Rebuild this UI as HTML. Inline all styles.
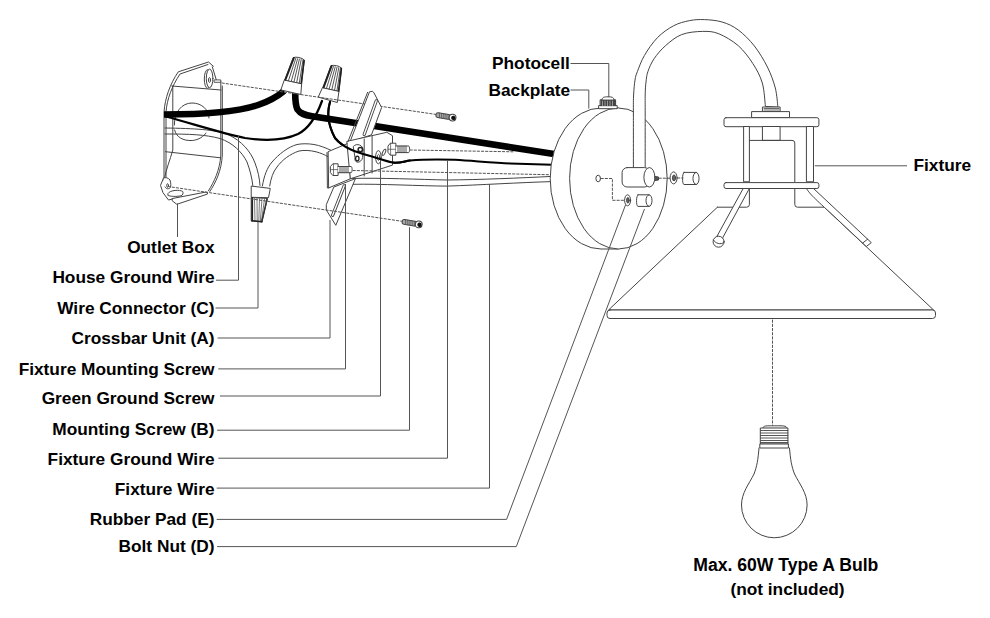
<!DOCTYPE html>
<html><head><meta charset="utf-8"><style>
html,body{margin:0;padding:0;background:#fff;}
svg{display:block;}
text{font-family:"Liberation Sans",sans-serif;font-weight:bold;font-size:17.3px;fill:#000;}
.l{fill:none;stroke:#555;stroke-width:1;}
.k{fill:none;stroke:#222;stroke-width:1;}
.d{fill:none;stroke:#555;stroke-width:1;stroke-dasharray:3 3;}
</style></head><body>
<svg width="990" height="618" viewBox="0 0 990 618">
<!-- LABELS -->
<g text-anchor="end">
<text x="214.5" y="253.4">Outlet Box</text>
<text x="214.5" y="283.4">House Ground Wire</text>
<text x="214.5" y="313.6">Wire Connector (C)</text>
<text x="214.5" y="343.6">Crossbar Unit (A)</text>
<text x="214.5" y="374.6">Fixture Mounting Screw</text>
<text x="214.5" y="403.6">Green Ground Screw</text>
<text x="214.5" y="434.6">Mounting Screw (B)</text>
<text x="214.5" y="464.6">Fixture Ground Wire</text>
<text x="214.5" y="494.6">Fixture Wire</text>
<text x="214.5" y="524.6">Rubber Pad (E)</text>
<text x="214.5" y="552.1">Bolt Nut (D)</text>
</g>
<text x="492" y="69">Photocell</text>
<text x="488.5" y="96">Backplate</text>
<text x="913.5" y="170.9">Fixture</text>
<text x="785.8" y="570.8" text-anchor="middle" style="font-size:17.6px">Max. 60W Type A Bulb</text>
<text x="787.5" y="594.5" text-anchor="middle">(not included)</text>

<!-- DRAWING -->
<g id="drawing" fill="none" stroke="#444" stroke-width="1" stroke-linejoin="round" stroke-linecap="round">
<!-- outlet box -->
<path d="M164,180 V112 C165,98 170,84 178.3,71.8 L208.5,62 L213.4,66.3"/>
<path d="M166,178 V112 C167,99 172,86 180,74 L208,64.5"/>
<path d="M212.3,66.8 L216.5,80.5 M220.8,81 V155 C220,170 214,182 208.4,190.9"/>
<path d="M222.3,86 V155 C221.5,171 215.5,183 209.8,191.5"/>
<path d="M172.8,86 V150 C170,160 166,170 164.5,178"/>
<path d="M171.8,86 L221,90"/>
<path d="M165.5,151.7 L219.7,157.7"/>
<path d="M174.4,125 C174,112 182,103 192,103 C202,103 209,110 209,118 M174.6,130 C176,137 183,141 192.2,140.5 C199,140 204,136 206,133"/>
<ellipse cx="207.6" cy="79" rx="3.3" ry="9.3" fill="#fff"/>
<ellipse cx="209.6" cy="78.4" rx="3.3" ry="9.3" fill="#fff"/>
<ellipse cx="209.5" cy="80" rx="1" ry="2.5"/>
<rect x="214.5" y="79.9" width="6.2" height="2.4" fill="#fff" stroke-width="0.9"/>
<path d="M163.5,178 L160.5,185.4 L163,192.7 L168.5,200 L172.5,199"/>
<path d="M163.7,178.1 C165,177 168,177.5 170,180 C171,183 171,186 170.3,187.5 C169,189.5 166,189 165,187" fill="#fff"/>
<ellipse cx="167.6" cy="185.5" rx="0.9" ry="1.8"/>
<path d="M168.2,193.2 C170,190 180,189.5 182.7,191.5 C183.5,193 183,195 181,195.8 C176,196.8 170,196.5 168.2,195.5 Z" fill="#fff"/>
<path d="M172.5,198.5 L206,192 L207.4,192.7 L207.4,194.1 L176.8,204.3 L172.5,201 Z" fill="#fff"/>
<!-- white wires (double lines) -->
<path d="M165,128 C195,128.5 215,129.5 228,134.5 C242,141 251,152 255,163 C258,171 259.5,178 260,185.5"/>
<path d="M165,134 C190,134 205,134.5 220,138.5 C233,143 242,152 247,162 C250,170 252,178 252.8,185.5"/>
<path d="M262.4,186 C264,176 267,168 272,162 C279,154 288,147 297,144.5 C302,143.5 308,143.5 314,144.5 C320,145.5 326,148 330.7,150.2"/>
<path d="M269.7,186 C271,178 273,172 277,167 C282,160 290,154 299,151 C304,150 310,150.3 316,151.8 C321,153 325,155 327.6,156.5"/>
<path d="M350.6,178.5 C380,177.6 420,179.5 447,180 C480,179.7 520,178 552,176.4"/>
<path d="M353,184.3 C380,183.7 420,186 447,186.1 C480,185 520,182.5 552,181.6"/>
<!-- thin black wires -->
<path d="M166,116.5 C200,126 225,134 245,138 C265,141 285,140 298,134 C310,128 318,112 322,101" stroke="#000" stroke-width="2.2"/>
<path d="M330,102 C327,112 328,125 335,138 C345,150 360,153 376,157.7 C385,160.5 390,162.6 395,162.7 C401,162.8 405,161.2 410,160.5 C425,159.2 440,159.3 455,159.8 C475,161 495,163 510,163.4 C530,164 545,164.6 552,164.8" stroke="#000" stroke-width="2"/>
<!-- thick black wires -->
<path d="M164,114.5 C200,114.5 235,113 258,105 C270,101 278,96 284,91" stroke="#000" stroke-width="6.5" stroke-linecap="butt"/>
<path d="M295.2,93 C295.2,100 295.2,105 297.5,109.5 C300.5,114 305,115 312,116.2 L554,154" stroke="#000" stroke-width="6.6" stroke-linecap="butt"/>
<!-- wire nut C (bottom) -->
<path d="M251.6,186.1 L270.3,188.4 L268.5,197.7 L251.6,197.3 Z" fill="#fff"/>
<path d="M251.6,197.5 L267.5,198.5 L261.8,221.8 L251.6,220.6 Z" fill="#fff"/>
<path d="M252.2,198 V220.5" stroke="#222" stroke-width="1.8"/>
<path d="M254.5,198.5 L255,221 M257,198.5 L257.2,221.3 M259.5,198.8 L258.8,221.5 M262,199 L260.3,221.6 M264.5,199.2 L261.5,221" stroke="#555" stroke-width="0.8"/>
<path d="M267,199 L261.8,221.8" stroke="#333" stroke-width="1.5"/>
<path d="M251.6,220.8 L261.8,221.8" stroke="#222" stroke-width="1.5"/>
<!-- wire nut 1 -->
<path d="M284.8,79.8 L301.7,83.4 L300.8,94.5 L281.2,90 Z" fill="#fff"/>
<path d="M284.8,79.8 L293.2,57.6 C296,56.5 302,57.5 304.4,60.2 L301.7,83.4 Z" fill="#fff"/>
<path d="M285.5,79.5 L293.8,58" stroke="#222" stroke-width="2"/>
<path d="M288.5,80.5 L295.8,58.3 M291.3,81.2 L297.6,58.7 M294,81.8 L299.4,59.1 M296.7,82.4 L301.2,59.5 M299.3,83 L303,59.9" stroke="#444" stroke-width="0.9"/>
<path d="M301.2,83 L304,60.5" stroke="#222" stroke-width="1.6"/>
<!-- wire nut 2 -->
<path d="M323,87.4 L339,91 L337.3,102.5 L318.6,97.2 Z" fill="#fff"/>
<path d="M323,87.4 L331,65.6 C334,64.8 339.5,65.8 341.7,68.2 L339,91 Z" fill="#fff"/>
<path d="M323.7,87.2 L331.5,66" stroke="#222" stroke-width="2"/>
<path d="M326.5,88.2 L333.4,66.4 M329.2,88.8 L335.2,66.8 M331.9,89.4 L337,67.2 M334.6,90 L338.8,67.6 M337,90.5 L340.4,68" stroke="#444" stroke-width="0.9"/>
<path d="M338.6,90.6 L341.3,68.6" stroke="#222" stroke-width="1.6"/>
<path d="M222,83 L436.5,114.5" stroke="#555" stroke-dasharray="2.3 1.9"/>
<!-- crossbar unit -->
<g fill="#fff">
<path d="M333.7,187.4 L326.3,204.7 L326.3,210 L335.8,225.3 L355.3,179 Z"/>
<path d="M350,141.8 L369.5,91.8 L372.6,91.3 L374,92.9 L381.6,107.6 L371.6,134.5 Z"/>
<path d="M328.5,151.5 L350,142.5 L350.6,178.7 L329,187.8 Z"/>
<path d="M347.2,141.3 L386.8,132.3 L392.5,135.7 L392.5,165.1 L350.6,178.7 Z"/>
</g>
<path d="M327,152.5 L327.4,188 L329,187.8"/>
<path d="M348,141.5 L367.6,92.4"/>
<path d="M364.2,139 V176 M372.1,136.5 V173"/>
<path d="M376.3,100.8 L364.2,134.5" stroke-width="3.2"/>
<path d="M376.3,100.8 L364.2,134.5" stroke="#fff" stroke-width="1.4"/>
<path d="M344.2,185.8 L332.6,215.3" stroke-width="3.2"/>
<path d="M344.2,185.8 L332.6,215.3" stroke="#fff" stroke-width="1.4"/>
<!-- nut on bracket -->
<path d="M353.5,146.3 C355,144.5 357.5,144.2 359.5,145 C362,146 363.2,148 363.1,150 L362.6,157.6 C362,160.5 359.5,162.5 357.5,162.2 C355.5,162 354.5,160 354.9,157.6 Z" fill="#fff"/>
<circle cx="360.3" cy="149.6" r="2.2" stroke="#222" stroke-width="1.5"/>
<ellipse cx="357.3" cy="158.6" rx="1.7" ry="2.4" stroke="#222" stroke-width="1.3"/>
<!-- green ground screw -->
<ellipse cx="378.4" cy="157.2" rx="2.8" ry="6.6" fill="#fff"/>
<ellipse cx="378.6" cy="157.4" rx="1.2" ry="3" stroke="#555"/>
<ellipse cx="0" cy="0" rx="1.3" ry="3.3" transform="translate(384,152.3) rotate(25)" fill="#fff"/>
<!-- fixture mounting screw (left) -->
<path d="M330.6,166.3 L332.8,163.8 L338.1,163.8 L338.1,175.5 L332.8,175.5 L330.6,172.8 Z" fill="#fff"/>
<path d="M330.8,169.6 H338.1" stroke-width="0.7"/>
<path d="M338.1,166.5 H351 C352.5,166.5 352.5,172.7 351,172.7 H338.1" fill="#fff"/>
<path d="M340,166.5 V172.7 M342,166.5 V172.7 M344,166.5 V172.7 M346,166.5 V172.7 M348,166.5 V172.7" stroke-width="0.9"/>
<path d="M333.5,164 V175.3" stroke-width="0.7"/>
<!-- right bracket screw -->
<path d="M388.2,145.8 L390.3,143.2 L395.9,143.2 L395.9,155.2 L390.3,155.2 L388.2,152.6 Z" fill="#fff"/>
<path d="M388.4,149.3 H395.9" stroke-width="0.7"/>
<path d="M395.9,146 H408.5 C410,146 410,152.6 408.5,152.6 H395.9" fill="#fff"/>
<path d="M398,146 V152.6 M400,146 V152.6 M402,146 V152.6 M404,146 V152.6 M406,146 V152.6" stroke-width="0.9"/>
<path d="M390.6,143.4 V155" stroke-width="0.7"/>
<!-- loose screws -->
<g transform="translate(436,114.8) rotate(9.5)">
<rect x="0" y="-2.4" width="14.5" height="4.8" rx="2" fill="#aaa"/>
<path d="M3,-2.3 L4,2.3 M5.2,-2.3 L6.2,2.3 M7.4,-2.3 L8.4,2.3 M9.6,-2.3 L10.6,2.3 M11.8,-2.3 L12.8,2.3" stroke="#555" stroke-width="0.8"/>
<circle cx="16.8" cy="0" r="3.4" fill="#fff"/>
<circle cx="17.6" cy="0.2" r="2.2" fill="#111" stroke="none"/>
</g>
<g transform="translate(402.2,221.5) rotate(10)">
<rect x="0" y="-2.4" width="14.5" height="4.8" rx="2" fill="#aaa"/>
<path d="M3,-2.3 L4,2.3 M5.2,-2.3 L6.2,2.3 M7.4,-2.3 L8.4,2.3 M9.6,-2.3 L10.6,2.3 M11.8,-2.3 L12.8,2.3" stroke="#555" stroke-width="0.8"/>
<circle cx="16.8" cy="0" r="3.4" fill="#fff"/>
<circle cx="17.6" cy="0.2" r="2.2" fill="#111" stroke="none"/>
</g>
<!-- backplate -->
<path d="M618.4,108 H601 A50.8,70.5 0 0 0 601,249 H618.4" fill="#fff"/>
<ellipse cx="618.4" cy="178.5" rx="48.8" ry="70.5" fill="#fff"/>
<!-- photocell -->
<g transform="translate(0,0.8)">
<rect x="599" y="104.8" width="18.2" height="3.1" fill="#fff"/>
<rect x="600.5" y="99" width="15.1" height="5.8" fill="#444"/>
<path d="M602.5,99 V104.8 M605,99 V104.8 M607.5,99 V104.8 M610,99 V104.8 M612.5,99 V104.8" stroke="#bbb" stroke-width="0.7"/>
<path d="M602,99 C602,96.5 604,96 608,96 C612,96 614,96.5 614,99 Z" fill="#fff"/>
</g>
<!-- gooseneck arm -->
<path d="M633.4,169.0 C633.4,160.0 633.4,127.3 633.4,115.0 C633.4,102.7 633.3,100.8 633.6,95.0 C633.9,89.2 634.4,83.9 635.0,80.0 C635.6,76.1 635.8,75.7 637.4,71.6 C639.0,67.5 641.1,61.1 644.4,55.5 C647.7,49.9 652.5,42.7 657.4,37.7 C662.2,32.8 668.1,28.7 673.5,25.8 C678.9,22.9 684.6,21.6 689.7,20.6 C694.8,19.6 698.9,19.4 704.3,19.6 C709.7,19.8 716.4,20.3 722.1,22.0 C727.8,23.7 732.9,26.0 738.3,30.0 C743.7,34.0 749.5,39.8 754.4,46.0 C759.2,52.2 763.9,60.0 767.4,67.0 C770.9,74.0 773.5,81.3 775.3,88.0 C777.0,94.7 777.5,104.0 777.9,107.2 L765.4,106.4 C764.9,102.5 764.4,90.2 762.3,83.0 C760.2,75.8 756.8,69.7 752.8,63.5 C748.8,57.3 743.9,50.7 738.3,45.7 C732.6,40.8 724.8,36.2 718.9,33.8 C713.0,31.4 708.9,31.3 702.7,31.4 C696.5,31.5 687.8,32.2 681.6,34.6 C675.4,37.0 670.1,41.7 665.5,45.7 C660.9,49.7 657.0,54.4 654.1,58.7 C651.2,63.0 649.2,67.7 647.9,71.6 C646.5,75.5 646.5,78.1 646.0,82.0 C645.5,85.9 645.3,89.5 645.2,95.0 C645.1,100.5 645.2,102.7 645.2,115.0 C645.2,127.3 645.2,160.0 645.2,169.0 Z" fill="#fff"/>
<rect x="622.1" y="167.6" width="27.3" height="19.4" rx="5" fill="#fff"/>
<ellipse cx="649.4" cy="177.3" rx="5.5" ry="9.7" fill="#fff"/>
<path d="M655,176.5 L658.5,177 L658.5,180 L655,180.5" fill="#555"/>
<!-- small hardware near backplate -->
<ellipse cx="598.2" cy="178.5" rx="2.3" ry="3.3"/>
<ellipse cx="627.6" cy="200.3" rx="3" ry="5.5" fill="#fff"/>
<ellipse cx="627.9" cy="200.3" rx="1.3" ry="2.8" fill="#666"/>
<path d="M638,194.8 H649 A3,5.8 0 0 1 649,206.4 H638 C636,206.4 636,194.8 638,194.8 Z" fill="#fff"/>
<path d="M649,194.8 A3,5.8 0 0 0 649,206.4"/>
<ellipse cx="673.6" cy="177.9" rx="3.5" ry="6" fill="#fff"/>
<ellipse cx="674" cy="177.9" rx="1.5" ry="3" fill="#666"/>
<path d="M684,172.4 H696 A3,6 0 0 1 696,184.5 H684 C682,184.5 682,172.4 684,172.4 Z" fill="#fff"/>
<path d="M696,172.4 A3,6 0 0 0 696,184.5"/>
<path d="M330,102 C327,112 328,125 335,138 C345,150 360,153 376,157.7 C385,160.5 390,162.6 395,162.7 C401,162.8 405,161.2 410,160.5" stroke="#000" stroke-width="2"/>
<!-- dashed lines -->
<g stroke="#555" stroke-dasharray="2.3 1.9">
<path d="M168,186.5 L402,221.3"/>
<path d="M353,170.5 L549,174.7"/>
<path d="M410,150 L513,151.8"/>
<path d="M601,178.5 H612.4 V200.3 H624"/>
<path d="M659,178.2 H670"/>
<path d="M677.5,178 H683"/>
<path d="M772.5,320 V425.5"/>
</g>
<!-- fixture top -->
<rect x="762.8" y="107" width="17.3" height="4.6" fill="#fff"/>
<path d="M764,108.5 H779 M764,110 H779" stroke-width="0.8"/>
<rect x="752" y="111.6" width="37.5" height="6.1" fill="#fff"/>
<rect x="724" y="117.7" width="94.9" height="9" rx="2" fill="#fff"/>
<rect x="744" y="126.5" width="5.4" height="55.3" fill="#fff"/>
<rect x="806.8" y="126.5" width="6.7" height="55.3" fill="#fff"/>
<rect x="762.8" y="126.5" width="17.3" height="13.9" fill="#fff"/>
<path d="M749.4,140.4 H792 Q794.8,140.4 794.8,143 V181.8"/>
<!-- shade -->
<path d="M717.4,207.2 L608.5,310 H933.6 L824.3,207.2 H797.5 Q794.8,207.2 794.8,204.5 V188.5 M749.4,188.5 V204.5 Q749.4,207.2 746.5,207.2 H717.4" fill="#fff"/>
<rect x="607" y="310" width="328.5" height="8.5" rx="3" fill="#fff"/>
<!-- rods -->
<path d="M744,187 L716.3,237.5 L721.6,239.8 L749.6,188 Z" fill="#fff"/>
<circle cx="718.6" cy="241.7" r="5.5" fill="#fff"/>
<path d="M713.4,240 C715.5,243.5 720.5,245 724,242.5"/>
<path d="M806.5,188.5 C809,193 813,197 830,212.5 L866.3,246.5 L871.3,242.6 L813.5,188.5 Z" fill="#fff"/>
<path d="M862.6,243.1 L867.6,239.2"/>
<rect x="724" y="182.6" width="94.9" height="5.9" rx="2" fill="#fff"/>
<!-- bulb -->
<path d="M759,448 C758,460 757,466 754,474 C749,484 741.5,493 741.5,505 A32.8,32.8 0 0 0 807.1,505 C807.1,493 799.5,484 794.5,474 C791.5,466 790.5,460 789.5,448" fill="#fff"/>
<path d="M763,428 C763,425.5 766,425.8 774.5,425.8 C783,425.8 786.8,425.5 786.8,428 Z" fill="#fff"/>
<rect x="760.7" y="428" width="27.2" height="16" fill="#fff"/>
<path d="M760.7,430.5 H787.9 M760.7,433 H787.9 M760.7,435.5 H787.9 M760.7,438 H787.9 M760.7,440.5 H787.9 M760.7,442.5 H787.9" stroke-width="0.9"/>
<rect x="760.2" y="444" width="28.2" height="4" fill="#fff"/>
</g>
<!-- LEADERS -->
<g class="l">
<path d="M177.5,203.5V237"/>
<path d="M216,280.2H238.5V135.5"/>
<path d="M215.5,308H258V222"/>
<path d="M217.6,338H330V220"/>
<path d="M218.3,368.9H345.5V184"/>
<path d="M219.9,396H380.5V160"/>
<path d="M217.1,430.2H409.5V227.2"/>
<path d="M218.3,458.2H447.5V160.5"/>
<path d="M216.7,488.1H489.5V184"/>
<path d="M216.7,519.4H506.6L625.5,205"/>
<path d="M217.1,546.6H516.3L644.5,209"/>
<path d="M570.5,63.5H608.8V97"/>
<path d="M570.5,90H588.8V108.6"/>
<path d="M814.8,165.8H907"/>
</g>
</svg>
</body></html>
